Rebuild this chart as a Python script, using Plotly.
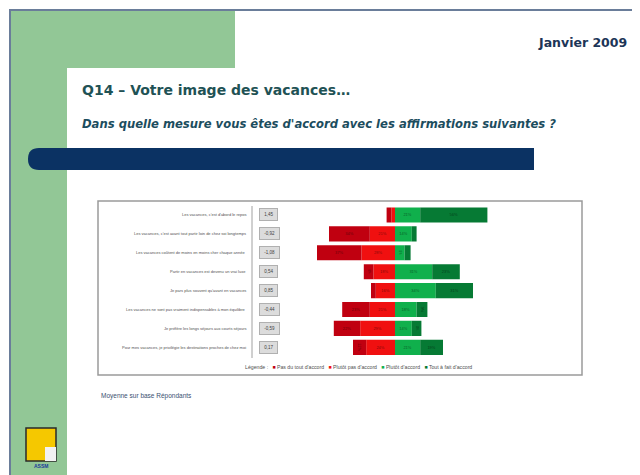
import plotly.graph_objects as go

# ---------------- data ----------------
categories = [
    "Les vacances, c'est d'abord le repos",
    "Les vacances, c'est avant tout partir loin de chez soi longtemps",
    "Les vacances coûtent de moins en moins cher chaque année",
    "Partir en vacances est devenu un vrai luxe",
    "Je pars plus souvent qu'avant en vacances",
    "Les vacances ne sont pas vraiment indispensables à mon équilibre",
    "Je préfère les longs séjours aux courts séjours",
    "Pour mes vacances, je privilégie les destinations proches de chez moi",
]
pas_du_tout = [4, 34, 37, 8, 4, 23, 22, 11]
plutot_pas = [3, 21, 28, 18, 16, 21, 29, 24]
plutot = [21, 14, 8, 31, 34, 18, 14, 21]
tout_a_fait = [56, 4, 5, 23, 31, 9, 8, 19]
moyennes = ["1,45", "-0,92", "-1,08", "0,54", "0,85", "-0,44", "-0,59", "0,17"]
series_names = ["Pas du tout d'accord", "Plutôt pas d'accord", "Plutôt d'accord", "Tout à fait d'accord"]

# ---------------- styles ----------------
OFF = 8                      # page body margin of the html page
W, H = 640 - OFF, 475 - OFF
C_DRED, C_RED, C_LGREEN, C_DGREEN = "#c00010", "#f01010", "#10b04c", "#067a34"
FONT = "Liberation Sans, Arial, sans-serif"
FONT_T = "DejaVu Sans, Verdana, sans-serif"


def px(x):
    return (x - OFF) / W


def py(y):
    return 1 - (y - OFF) / H


def lab(vals):
    return [(f"{v}%" if v >= 6 else "") for v in vals]


fig = go.Figure()
for name, vals, col, sign in [
    (series_names[1], plutot_pas, C_RED, -1),
    (series_names[0], pas_du_tout, C_DRED, -1),
    (series_names[2], plutot, C_LGREEN, 1),
    (series_names[3], tout_a_fait, C_DGREEN, 1),
]:
    fig.add_trace(go.Bar(
        y=categories, x=[sign * v for v in vals], orientation="h", name=name,
        marker=dict(color=col, line=dict(width=0)),
        text=lab(vals), textposition="inside", insidetextanchor="middle",
        textfont=dict(size=4, color="rgba(0,0,0,0.5)", family=FONT),
        showlegend=False, hoverinfo="skip",
    ))

# axis geometry (page pixels)
dom_x0, dom_x1, zero_px, ppp = 288, 560, 395, 1.2
x_range = [-(zero_px - dom_x0) / ppp, (dom_x1 - zero_px) / ppp]
row_top, row_bot = 205.5, 356.8

fig.update_layout(
    width=W, height=H, margin=dict(l=0, r=0, t=0, b=0),
    paper_bgcolor="white", plot_bgcolor="rgba(0,0,0,0)",
    barmode="relative", bargap=0.2,
    xaxis=dict(domain=[px(dom_x0), px(dom_x1)], range=x_range, visible=False, fixedrange=True),
    yaxis=dict(domain=[py(row_bot), py(row_top)], type="category",
               range=[len(categories) - 0.5, -0.5], visible=False),
    font=dict(family=FONT),
    showlegend=False,
)

shapes = []
shapes.append(dict(type="rect", xref="paper", yref="paper", x0=px(10), x1=px(637), y0=py(476), y1=py(10),
                   line=dict(color="#6a7d9a", width=2), fillcolor="white", layer="below"))
shapes.append(dict(type="rect", xref="paper", yref="paper", x0=px(11), x1=px(235), y0=py(68), y1=py(11),
                   line=dict(width=0), fillcolor="#92c796", layer="below"))
shapes.append(dict(type="rect", xref="paper", yref="paper", x0=px(11), x1=px(67), y0=py(476), y1=py(11),
                   line=dict(width=0), fillcolor="#92c796", layer="below"))
r = 14
path = (f"M {px(67)},{py(68 + r)} Q {px(67)},{py(68)} {px(67 + r)},{py(68)} "
        f"L {px(240)},{py(68)} L {px(240)},{py(100)} L {px(67)},{py(100)} Z")
shapes.append(dict(type="path", xref="paper", yref="paper", path=path, line=dict(width=0),
                   fillcolor="white", layer="below"))
x0, x1, y0, y1 = 28, 534, 148, 170
rr = 11
nav = (f"M {px(x0 + rr)},{py(y0)} L {px(x1)},{py(y0)} L {px(x1)},{py(y1)} L {px(x0 + rr)},{py(y1)} "
       f"Q {px(x0)},{py(y1)} {px(x0)},{py((y0 + y1) / 2)} Q {px(x0)},{py(y0)} {px(x0 + rr)},{py(y0)} Z")
shapes.append(dict(type="path", xref="paper", yref="paper", path=nav, line=dict(width=0),
                   fillcolor="#0b3263", layer="below"))
shapes.append(dict(type="rect", xref="paper", yref="paper", x0=px(98), x1=px(582), y0=py(375), y1=py(201),
                   line=dict(color="#9a9a9a", width=1.5), fillcolor="white", layer="below"))
shapes.append(dict(type="line", xref="paper", yref="paper", x0=px(252), x1=px(252), y0=py(358), y1=py(206),
                   line=dict(color="#a0a0a0", width=1)))
shapes.append(dict(type="rect", xref="paper", yref="paper", x0=px(26), x1=px(56), y0=py(461), y1=py(428),
                   line=dict(color="#2a2a2a", width=1.5), fillcolor="#f5c800"))
shapes.append(dict(type="rect", xref="paper", yref="paper", x0=px(45), x1=px(56), y0=py(461), y1=py(447),
                   line=dict(width=0), fillcolor="#f2f2f2"))
fig.update_layout(shapes=shapes)

ann = []
ann.append(dict(text="<b>Janvier 2009</b>", x=px(629), y=py(42), xref="paper", yref="paper",
                xanchor="right", yanchor="middle", showarrow=False,
                font=dict(size=12.5, color="#1d3557", family=FONT_T)))
ann.append(dict(text="<b>Q14 – Votre image des vacances…</b>", x=px(80), y=py(90), xref="paper",
                yref="paper", xanchor="left", yanchor="middle", showarrow=False,
                font=dict(size=14, color="#1f5255", family=FONT_T)))
ann.append(dict(text="<b><i>Dans quelle mesure vous êtes d'accord avec les affirmations suivantes ?</i></b>",
                x=px(80), y=py(124), xref="paper", yref="paper", xanchor="left", yanchor="middle",
                showarrow=False, font=dict(size=11.6, color="#1c4d5e", family=FONT_T)))
ann.append(dict(text="Moyenne sur base Répondants", x=px(99), y=py(396), xref="paper", yref="paper",
                xanchor="left", yanchor="middle", showarrow=False,
                font=dict(size=6.5, color="#3a5070", family=FONT)))
ann.append(dict(text="<b>ASSM</b>", x=px(41), y=py(466), xref="paper", yref="paper",
                xanchor="center", yanchor="middle", showarrow=False,
                font=dict(size=5, color="#1a3a9a", family=FONT)))
for cat, m in zip(categories, moyennes):
    ann.append(dict(text=cat, x=px(248), y=cat, xref="paper", yref="y", xanchor="right",
                    yanchor="middle", showarrow=False, font=dict(size=4, color="#505050", family=FONT)))
    ann.append(dict(text=f" {m} ", x=px(259), y=cat, xref="paper", yref="y", xanchor="left",
                    yanchor="middle", showarrow=False, bgcolor="#dcdcdc", bordercolor="#b0b0b0",
                    borderwidth=1, borderpad=3, font=dict(size=4.5, color="#404040", family=FONT)))
colors = [C_DRED, C_RED, C_LGREEN, C_DGREEN]
leg = "Légende :   " + "   ".join(
    f"<span style='color:{c}'>■</span> {n}" for c, n in zip(colors, series_names))
ann.append(dict(text=leg, x=px(243), y=py(367), xref="paper", yref="paper", xanchor="left",
                yanchor="middle", showarrow=False, font=dict(size=5.2, color="#505050", family=FONT)))
fig.update_layout(annotations=ann)

fig.write_html("out.html")
